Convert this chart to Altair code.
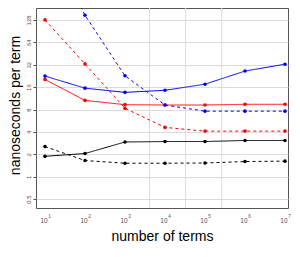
import altair as alt
import pandas as pd

terms = [10, 100, 1000, 10000, 100000, 1000000, 10000000]

red_solid = [20.3, 10.6, 9.3, 9.2, 9.2, 9.4, 9.4]
red_dashed = [128, 32.8, 8.3, 4.6, 4.1, 4.1, 4.1]
blue_solid = [22.5, 15.5, 13.6, 14.5, 17.5, 26.3, 32.5]
blue_dashed = [1650, 148, 22.7, 9.2, 7.6, 7.6, 7.6]
black_solid = [1.88, 2.05, 2.93, 2.97, 2.97, 3.07, 3.07]
black_dashed = [2.54, 1.65, 1.52, 1.52, 1.53, 1.6, 1.62]

x_grid = [4096, 32768, 262144]
y_ticks = [0.5, 1, 2, 4, 8, 16, 32, 64, 128]
x_ticks = [10, 100, 1000, 10000, 100000, 1000000, 10000000]
x_exponents = ["1", "2", "3", "4", "5", "6", "7"]

series = [
    ("red", "solid", red_solid),
    ("red", "dashed", red_dashed),
    ("blue", "solid", blue_solid),
    ("blue", "dashed", blue_dashed),
    ("black", "solid", black_solid),
    ("black", "dashed", black_dashed),
]
rows = []
for col, sty, vals in series:
    for n, v in zip(terms, vals):
        rows.append({"n": n, "value": v, "color": col, "style": sty, "key": col + sty})
df = pd.DataFrame(rows)

W, H = 252, 200
FONT = "Liberation Sans"

xscale = alt.Scale(type="log", base=10, domain=[5.96, 1.19e7], nice=False)
yscale = alt.Scale(type="log", base=2, domain=[0.38, 185], nice=False)

xenc = alt.X("n:Q", scale=xscale,
             axis=alt.Axis(values=x_ticks, grid=False, labelExpr="'10'",
                           title="number of terms", titleFontSize=14, titleFontWeight="normal",
                           titleFont=FONT, labelFont=FONT, labelOffset=-1.5,
                           titleY=32, titleBaseline="alphabetic",
                           labelFontSize=6.5, labelColor="#4d4d4d", ticks=False,
                           domain=False, labelPadding=9))
yenc = alt.Y("value:Q", scale=yscale,
             axis=alt.Axis(values=y_ticks, grid=True, gridColor="#dcdcdc", labelExpr="''+datum.value",
                           labelAngle=270, labelAlign="center", labelBaseline="middle",
                           title="nanoseconds per term", titleFontSize=14, titleFontWeight="normal",
                           titleFont=FONT, labelFont=FONT, titleX=-14, titleY=97,
                           labelFontSize=6, labelColor="#4d4d4d", tickColor="#4d4d4d",
                           tickSize=3, domain=False, labelPadding=5))

color = alt.Color("color:N", scale=alt.Scale(domain=["red", "blue", "black"],
                                             range=["#ff0000", "#0000ff", "#000000"]), legend=None)
dash = alt.StrokeDash("style:N", scale=alt.Scale(domain=["solid", "dashed"],
                                                 range=[[1, 0], [3, 3]]), legend=None)

base = alt.Chart(df)
lines = base.mark_line(clip=True, strokeWidth=1).encode(x=xenc, y=yenc, color=color,
                                                          strokeDash=dash, detail="key:N")
points = base.mark_circle(clip=True, size=13, opacity=1).encode(x="n:Q", y="value:Q", color=color)

grid = alt.Chart(pd.DataFrame({"g": x_grid})).mark_rule(color="#dcdcdc", strokeWidth=1).encode(
    x=alt.X("g:Q", scale=xscale))

exps = alt.Chart(pd.DataFrame({"n": x_ticks, "e": x_exponents})).mark_text(
    fontSize=4.5, font=FONT, color="#4d4d4d", dx=4.5, baseline="alphabetic", align="center"
).encode(x=alt.X("n:Q", scale=xscale), y=alt.value(H + 10), text="e:N")

chart = alt.layer(grid, lines, points, exps).properties(
    width=W, height=H,
    autosize=alt.AutoSizeParams(type="none"),
    padding={"left": 28, "top": 0, "right": 4, "bottom": 41},
).configure_view(stroke="#555555", strokeWidth=1)

chart.save("out.html", embed_options={"renderer": "svg", "actions": False})
